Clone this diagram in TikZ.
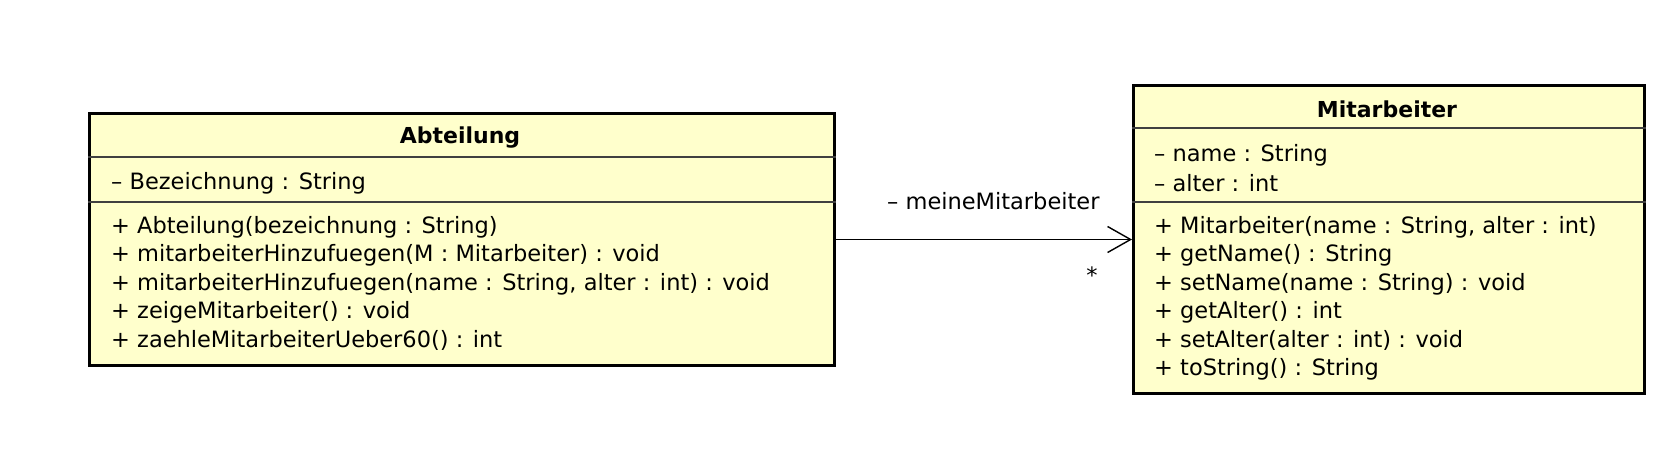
\documentclass[tikz,border=0pt]{standalone}
\usepackage{fontspec}
\setmainfont{DejaVu Sans}
\usepackage{xcolor}
\usetikzlibrary{arrows.meta}
\definecolor{classfill}{RGB}{255,255,204}

\begin{document}
\begin{tikzpicture}[x=1pt,y=-1pt,
    classbox/.style={draw, line width=3pt, fill=classfill, anchor=north west, inner sep=0pt},
    member/.style={anchor=west, inner sep=0pt, font=\fontsize{22.5}{27}\selectfont},
    classname/.style={inner sep=0pt, font=\fontsize{22}{27}\selectfont\bfseries},
    compsep/.style={line width=1.2pt, black!75},
    assoc/.style={line width=1.4pt, -{Straight Barb[length=23pt,width=26pt,line width=1.4pt]}}]
  \useasboundingbox (0,0) rectangle (1660,456);

  % Abteilung
  \node[classbox, minimum width=745pt, minimum height=252pt] (abt) at (88,112) {};
  \node[classname] (abtname) at (460,138) {Abteilung};
  \draw[compsep] ([yshift=-45pt]abt.north west) -- ([yshift=-45pt]abt.north east);
  \draw[compsep] ([yshift=-90pt]abt.north west) -- ([yshift=-90pt]abt.north east);
  \node[member] (abta1) at (111,183) {– Bezeichnung : String};
  \foreach \t [count=\i] in {{+ Abteilung(bezeichnung : String)},
      {+ mitarbeiterHinzufuegen(M : Mitarbeiter) : void},
      {+ mitarbeiterHinzufuegen(name : String, alter : int) : void},
      {+ zeigeMitarbeiter() : void},
      {+ zaehleMitarbeiterUeber60() : int}}
    \node[member] (abtm\i) at (111,199+28.3*\i) {\t};

  % Mitarbeiter
  \node[classbox, minimum width=511pt, minimum height=308pt] (mit) at (1132,84) {};
  \node[classname] (mitname) at (1387,109) {Mitarbeiter};
  \draw[compsep] ([yshift=-44pt]mit.north west) -- ([yshift=-44pt]mit.north east);
  \draw[compsep] ([yshift=-118pt]mit.north west) -- ([yshift=-118pt]mit.north east);
  \node[member] (mita1) at (1154,155) {– name : String};
  \node[member] (mita2) at (1154,183) {– alter : int};
  \foreach \t [count=\i] in {{+ Mitarbeiter(name : String, alter : int)},
      {+ getName() : String},
      {+ setName(name : String) : void},
      {+ getAlter() : int},
      {+ setAlter(alter : int) : void},
      {+ toString() : String}}
    \node[member] (mitm\i) at (1154,199+28.3*\i) {\t};

  % Assoziation
  \draw[assoc] (abt.east) -- (mit.west);
  \node[member] (role) at (887,201) {– meineMitarbeiter};
  \node[member, anchor=center] (mult) at (1092,275) {*};
\end{tikzpicture}
\end{document}
